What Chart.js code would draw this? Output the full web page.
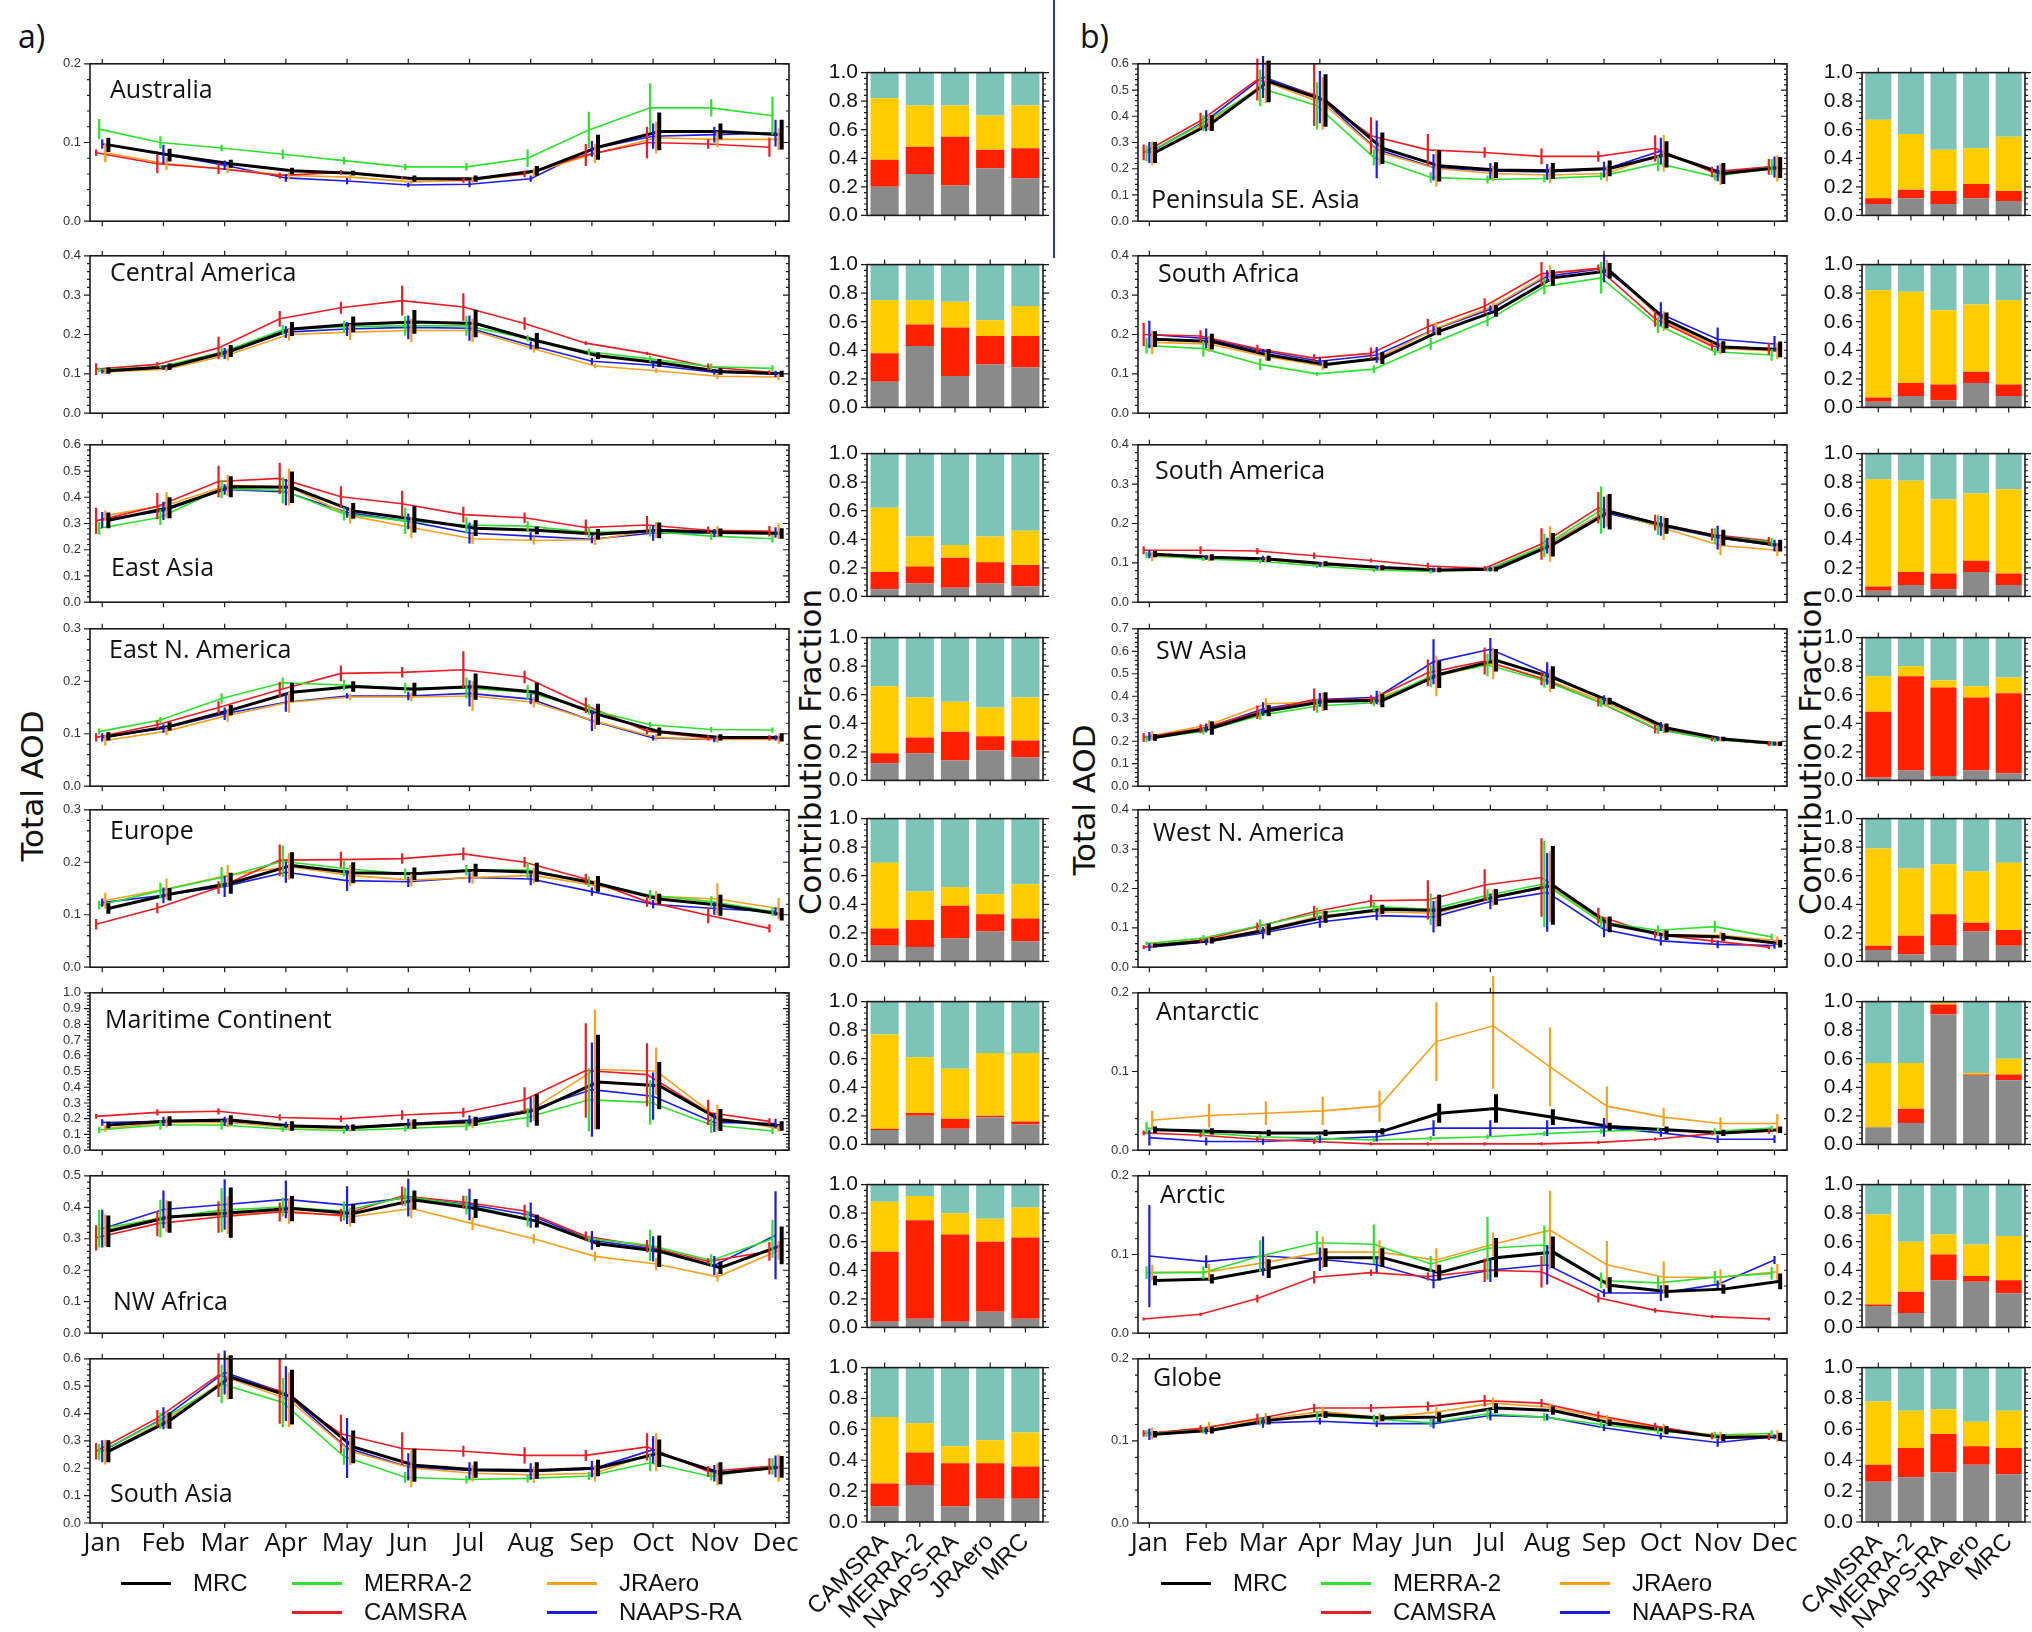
<!DOCTYPE html>
<html lang="en">
<head>
<meta charset="UTF-8" />
<title>Monthly total AOD and contribution fraction by region</title>
<script src="https://cdn.jsdelivr.net/npm/chart.js"></script>
<style>
  body { margin: 0; background: #fff; width: 2032px; height: 1632px; position: relative; overflow: hidden; font-family: "Liberation Sans", Arial, sans-serif; color: #111; }
  canvas { position: absolute; }
  .txt { position: absolute; white-space: nowrap; }
  .panel { font-family: "Open Sans", sans-serif; font-size: 32px; line-height: 1; }
  .vtitle { position: absolute; white-space: nowrap; font-family: "DejaVu Sans", sans-serif; font-size: 31px; transform: translate(-50%, -50%) rotate(-90deg); }
  .legline { position: absolute; height: 3px; }
  .legtxt { position: absolute; font-size: 24px; line-height: 24px; transform: translateY(-50%); white-space: nowrap; }
  #divider { position: absolute; left: 1053px; top: 0; width: 1.5px; height: 258px; background: #2b3f86; }
</style>
</head>
<body>
<div class="txt panel" style="left:18px;top:20px">a)</div>
<div class="txt panel" style="left:1080px;top:20px">b)</div>
<div id="divider"></div>
<div class="vtitle" style="left:32px;top:786px">Total AOD</div>
<div class="vtitle" style="left:1084px;top:800px">Total AOD</div>
<div class="vtitle" style="left:810px;top:752px">Contribution Fraction</div>
<div class="vtitle" style="left:1810px;top:752px">Contribution Fraction</div>

<script>
  const months = ['Jan', 'Feb', 'Mar', 'Apr', 'May', 'Jun', 'Jul', 'Aug', 'Sep', 'Oct', 'Nov', 'Dec'];
  const products = ['MRC', 'MERRA-2', 'CAMSRA', 'JRAero', 'NAAPS-RA'];
  const barLabels = ['CAMSRA', 'MERRA-2', 'NAAPS-RA', 'JRAero', 'MRC'];

  // monthly total AOD, rows in the order of products
  const aodAustralia = [
    [0.097, 0.084, 0.073, 0.064, 0.061, 0.054, 0.054, 0.064, 0.094, 0.114, 0.114, 0.110],
    [0.117, 0.100, 0.093, 0.085, 0.077, 0.069, 0.069, 0.080, 0.116, 0.144, 0.144, 0.134],
    [0.087, 0.073, 0.067, 0.058, 0.062, 0.055, 0.052, 0.060, 0.084, 0.100, 0.098, 0.094],
    [0.087, 0.073, 0.066, 0.058, 0.056, 0.050, 0.052, 0.062, 0.086, 0.106, 0.104, 0.104],
    [0.098, 0.085, 0.071, 0.055, 0.051, 0.046, 0.047, 0.054, 0.092, 0.108, 0.110, 0.112]
  ];
  const errAustralia = [
    [0.009, 0.008, 0.005, 0.004, 0.003, 0.004, 0.004, 0.006, 0.016, 0.024, 0.010, 0.019],
    [0.013, 0.008, 0.004, 0.006, 0.005, 0.004, 0.005, 0.011, 0.023, 0.031, 0.011, 0.024],
    [0.004, 0.012, 0.007, 0.004, 0.003, 0.002, 0.003, 0.004, 0.014, 0.020, 0.006, 0.012],
    [0.012, 0.008, 0.005, 0.005, 0.004, 0.003, 0.004, 0.005, 0.012, 0.020, 0.010, 0.014],
    [0.006, 0.012, 0.006, 0.005, 0.004, 0.003, 0.004, 0.004, 0.010, 0.016, 0.010, 0.017]
  ];
  const aodCentralAmerica = [
    [0.108, 0.118, 0.158, 0.214, 0.226, 0.232, 0.228, 0.184, 0.146, 0.128, 0.106, 0.100],
    [0.110, 0.118, 0.155, 0.212, 0.220, 0.222, 0.222, 0.190, 0.156, 0.138, 0.118, 0.114],
    [0.112, 0.124, 0.166, 0.240, 0.268, 0.286, 0.270, 0.228, 0.178, 0.152, 0.118, 0.104],
    [0.105, 0.112, 0.148, 0.200, 0.206, 0.210, 0.210, 0.164, 0.120, 0.108, 0.094, 0.092],
    [0.106, 0.116, 0.152, 0.206, 0.214, 0.218, 0.216, 0.172, 0.132, 0.122, 0.104, 0.100]
  ];
  const errCentralAmerica = [
    [0.008, 0.008, 0.015, 0.018, 0.020, 0.030, 0.035, 0.020, 0.008, 0.010, 0.008, 0.008],
    [0.006, 0.004, 0.012, 0.012, 0.015, 0.025, 0.025, 0.008, 0.008, 0.008, 0.008, 0.008],
    [0.015, 0.006, 0.028, 0.020, 0.015, 0.038, 0.035, 0.016, 0.005, 0.004, 0.008, 0.005],
    [0.006, 0.006, 0.014, 0.015, 0.020, 0.030, 0.030, 0.010, 0.006, 0.006, 0.008, 0.008],
    [0.005, 0.006, 0.014, 0.015, 0.018, 0.030, 0.032, 0.010, 0.008, 0.008, 0.006, 0.008]
  ];
  const aodEastAsia = [
    [0.312, 0.360, 0.440, 0.438, 0.348, 0.316, 0.282, 0.274, 0.259, 0.274, 0.266, 0.262],
    [0.282, 0.324, 0.432, 0.426, 0.336, 0.310, 0.294, 0.290, 0.266, 0.270, 0.252, 0.242],
    [0.310, 0.366, 0.460, 0.472, 0.402, 0.375, 0.334, 0.322, 0.285, 0.294, 0.274, 0.270],
    [0.330, 0.370, 0.446, 0.440, 0.330, 0.285, 0.242, 0.235, 0.238, 0.276, 0.270, 0.270],
    [0.314, 0.348, 0.430, 0.420, 0.342, 0.308, 0.264, 0.252, 0.240, 0.264, 0.264, 0.266]
  ];
  const errEastAsia = [
    [0.030, 0.040, 0.040, 0.060, 0.030, 0.050, 0.030, 0.015, 0.020, 0.030, 0.015, 0.020],
    [0.025, 0.030, 0.035, 0.050, 0.025, 0.050, 0.030, 0.020, 0.020, 0.020, 0.015, 0.015],
    [0.050, 0.050, 0.060, 0.060, 0.040, 0.050, 0.030, 0.020, 0.030, 0.035, 0.015, 0.020],
    [0.020, 0.050, 0.040, 0.070, 0.030, 0.040, 0.020, 0.015, 0.020, 0.030, 0.020, 0.030],
    [0.030, 0.035, 0.020, 0.050, 0.020, 0.030, 0.040, 0.015, 0.015, 0.030, 0.015, 0.020]
  ];
  const aodEastNAmerica = [
    [0.095, 0.114, 0.145, 0.179, 0.190, 0.185, 0.190, 0.179, 0.137, 0.104, 0.093, 0.093],
    [0.104, 0.126, 0.167, 0.197, 0.193, 0.187, 0.187, 0.179, 0.146, 0.117, 0.108, 0.107],
    [0.093, 0.117, 0.150, 0.184, 0.215, 0.217, 0.222, 0.208, 0.154, 0.105, 0.092, 0.092],
    [0.087, 0.105, 0.135, 0.160, 0.170, 0.170, 0.172, 0.160, 0.124, 0.093, 0.089, 0.089],
    [0.093, 0.110, 0.138, 0.160, 0.172, 0.172, 0.177, 0.166, 0.125, 0.092, 0.089, 0.092]
  ];
  const errEastNAmerica = [
    [0.008, 0.008, 0.010, 0.018, 0.010, 0.012, 0.025, 0.018, 0.020, 0.008, 0.006, 0.008],
    [0.006, 0.006, 0.010, 0.010, 0.010, 0.010, 0.020, 0.014, 0.010, 0.006, 0.005, 0.005],
    [0.008, 0.008, 0.012, 0.015, 0.015, 0.010, 0.035, 0.012, 0.015, 0.006, 0.005, 0.005],
    [0.010, 0.008, 0.012, 0.020, 0.006, 0.008, 0.028, 0.010, 0.015, 0.006, 0.006, 0.008],
    [0.008, 0.008, 0.012, 0.018, 0.005, 0.008, 0.025, 0.010, 0.020, 0.005, 0.005, 0.005]
  ];
  const aodEurope = [
    [0.112, 0.139, 0.160, 0.194, 0.180, 0.178, 0.185, 0.181, 0.159, 0.130, 0.118, 0.101],
    [0.118, 0.146, 0.171, 0.202, 0.188, 0.178, 0.185, 0.185, 0.163, 0.137, 0.125, 0.106],
    [0.082, 0.113, 0.152, 0.204, 0.205, 0.207, 0.216, 0.200, 0.168, 0.125, 0.099, 0.074],
    [0.127, 0.149, 0.175, 0.192, 0.175, 0.166, 0.171, 0.175, 0.156, 0.135, 0.130, 0.112],
    [0.123, 0.137, 0.154, 0.181, 0.165, 0.163, 0.171, 0.168, 0.144, 0.120, 0.112, 0.106]
  ];
  const errEurope = [
    [0.010, 0.012, 0.020, 0.025, 0.020, 0.012, 0.012, 0.018, 0.015, 0.010, 0.020, 0.012],
    [0.008, 0.015, 0.020, 0.030, 0.015, 0.010, 0.010, 0.015, 0.010, 0.010, 0.010, 0.008],
    [0.010, 0.010, 0.012, 0.030, 0.015, 0.010, 0.012, 0.010, 0.010, 0.010, 0.015, 0.008],
    [0.015, 0.020, 0.020, 0.025, 0.020, 0.012, 0.012, 0.015, 0.010, 0.010, 0.030, 0.020],
    [0.008, 0.015, 0.020, 0.020, 0.020, 0.010, 0.010, 0.012, 0.008, 0.008, 0.012, 0.008]
  ];
  const aodMaritime = [
    [0.160, 0.186, 0.192, 0.154, 0.144, 0.167, 0.183, 0.256, 0.433, 0.410, 0.192, 0.154],
    [0.128, 0.160, 0.160, 0.135, 0.125, 0.138, 0.154, 0.208, 0.320, 0.304, 0.160, 0.122],
    [0.215, 0.240, 0.247, 0.208, 0.199, 0.224, 0.240, 0.320, 0.506, 0.480, 0.240, 0.183],
    [0.138, 0.176, 0.176, 0.144, 0.138, 0.160, 0.170, 0.266, 0.513, 0.503, 0.208, 0.138],
    [0.176, 0.183, 0.183, 0.160, 0.144, 0.170, 0.192, 0.256, 0.385, 0.343, 0.176, 0.170]
  ];
  const errMaritime = [
    [0.02, 0.03, 0.03, 0.03, 0.02, 0.03, 0.03, 0.10, 0.30, 0.15, 0.07, 0.03],
    [0.02, 0.03, 0.03, 0.02, 0.02, 0.02, 0.03, 0.06, 0.20, 0.14, 0.05, 0.02],
    [0.015, 0.02, 0.02, 0.02, 0.02, 0.03, 0.03, 0.08, 0.30, 0.20, 0.08, 0.02],
    [0.02, 0.03, 0.03, 0.02, 0.02, 0.03, 0.03, 0.08, 0.38, 0.15, 0.08, 0.02],
    [0.02, 0.03, 0.03, 0.02, 0.02, 0.03, 0.03, 0.08, 0.30, 0.15, 0.06, 0.03]
  ];
  const aodNWAfrica = [
    [0.324, 0.369, 0.383, 0.396, 0.380, 0.423, 0.396, 0.356, 0.284, 0.260, 0.208, 0.279],
    [0.332, 0.364, 0.391, 0.401, 0.388, 0.433, 0.407, 0.364, 0.300, 0.279, 0.231, 0.300],
    [0.303, 0.348, 0.369, 0.385, 0.375, 0.436, 0.417, 0.388, 0.308, 0.276, 0.228, 0.260],
    [0.327, 0.372, 0.375, 0.388, 0.369, 0.396, 0.348, 0.300, 0.244, 0.220, 0.179, 0.263],
    [0.332, 0.393, 0.409, 0.425, 0.407, 0.431, 0.409, 0.375, 0.295, 0.268, 0.215, 0.311]
  ];
  const errNWAfrica = [
    [0.05, 0.05, 0.08, 0.04, 0.03, 0.03, 0.03, 0.02, 0.01, 0.05, 0.02, 0.06],
    [0.06, 0.06, 0.07, 0.03, 0.03, 0.03, 0.03, 0.025, 0.01, 0.05, 0.02, 0.06],
    [0.04, 0.04, 0.05, 0.03, 0.02, 0.03, 0.02, 0.02, 0.015, 0.02, 0.01, 0.03],
    [0.05, 0.05, 0.06, 0.04, 0.03, 0.03, 0.02, 0.015, 0.015, 0.02, 0.015, 0.03],
    [0.06, 0.06, 0.08, 0.06, 0.06, 0.06, 0.05, 0.04, 0.03, 0.04, 0.03, 0.14]
  ];
  const aodSouthAsia = [
    [0.262, 0.374, 0.533, 0.460, 0.278, 0.211, 0.195, 0.192, 0.201, 0.255, 0.182, 0.205],
    [0.259, 0.374, 0.508, 0.440, 0.243, 0.167, 0.159, 0.163, 0.172, 0.220, 0.170, 0.207],
    [0.262, 0.383, 0.540, 0.483, 0.326, 0.272, 0.262, 0.247, 0.247, 0.278, 0.188, 0.207],
    [0.259, 0.377, 0.531, 0.450, 0.262, 0.201, 0.182, 0.176, 0.182, 0.259, 0.178, 0.201],
    [0.262, 0.383, 0.550, 0.473, 0.274, 0.205, 0.192, 0.188, 0.197, 0.268, 0.182, 0.207]
  ];
  const errSouthAsia = [
    [0.04, 0.03, 0.08, 0.10, 0.06, 0.06, 0.03, 0.03, 0.03, 0.05, 0.04, 0.04],
    [0.03, 0.03, 0.07, 0.09, 0.03, 0.02, 0.015, 0.015, 0.015, 0.03, 0.015, 0.03],
    [0.03, 0.03, 0.08, 0.12, 0.07, 0.06, 0.02, 0.03, 0.02, 0.05, 0.02, 0.03],
    [0.045, 0.03, 0.08, 0.10, 0.05, 0.07, 0.03, 0.03, 0.03, 0.07, 0.04, 0.05],
    [0.04, 0.04, 0.08, 0.10, 0.11, 0.05, 0.03, 0.03, 0.03, 0.05, 0.03, 0.04]
  ];
  const aodPeninsula = [
    [0.262, 0.374, 0.533, 0.460, 0.278, 0.211, 0.195, 0.192, 0.201, 0.255, 0.182, 0.205],
    [0.259, 0.374, 0.508, 0.440, 0.243, 0.167, 0.159, 0.163, 0.172, 0.220, 0.170, 0.207],
    [0.262, 0.383, 0.540, 0.483, 0.326, 0.272, 0.262, 0.247, 0.247, 0.278, 0.188, 0.207],
    [0.259, 0.377, 0.531, 0.450, 0.262, 0.201, 0.182, 0.176, 0.182, 0.259, 0.178, 0.201],
    [0.262, 0.383, 0.550, 0.473, 0.274, 0.205, 0.192, 0.188, 0.197, 0.268, 0.182, 0.207]
  ];
  const errPeninsula = [
    [0.04, 0.03, 0.08, 0.10, 0.06, 0.06, 0.03, 0.03, 0.03, 0.05, 0.04, 0.04],
    [0.03, 0.03, 0.07, 0.09, 0.03, 0.02, 0.015, 0.015, 0.015, 0.03, 0.015, 0.03],
    [0.03, 0.03, 0.08, 0.12, 0.07, 0.06, 0.02, 0.03, 0.02, 0.05, 0.02, 0.03],
    [0.045, 0.03, 0.08, 0.10, 0.05, 0.07, 0.03, 0.03, 0.03, 0.07, 0.04, 0.05],
    [0.04, 0.04, 0.08, 0.10, 0.11, 0.05, 0.03, 0.03, 0.03, 0.05, 0.03, 0.04]
  ];
  const aodSouthAfrica = [
    [0.188, 0.182, 0.148, 0.124, 0.140, 0.208, 0.260, 0.344, 0.362, 0.236, 0.168, 0.162],
    [0.172, 0.164, 0.124, 0.100, 0.112, 0.176, 0.236, 0.322, 0.344, 0.224, 0.156, 0.148],
    [0.200, 0.196, 0.164, 0.140, 0.152, 0.220, 0.272, 0.354, 0.368, 0.240, 0.170, 0.164],
    [0.180, 0.176, 0.144, 0.120, 0.142, 0.216, 0.272, 0.356, 0.370, 0.234, 0.164, 0.158],
    [0.200, 0.190, 0.158, 0.132, 0.148, 0.212, 0.264, 0.348, 0.368, 0.252, 0.188, 0.176]
  ];
  const errSouthAfrica = [
    [0.020, 0.020, 0.015, 0.010, 0.015, 0.010, 0.015, 0.020, 0.020, 0.020, 0.015, 0.020],
    [0.020, 0.020, 0.015, 0.005, 0.010, 0.015, 0.015, 0.020, 0.040, 0.020, 0.010, 0.015],
    [0.030, 0.015, 0.010, 0.010, 0.015, 0.020, 0.020, 0.030, 0.010, 0.020, 0.010, 0.015],
    [0.030, 0.020, 0.010, 0.010, 0.010, 0.015, 0.010, 0.020, 0.020, 0.025, 0.015, 0.020],
    [0.035, 0.025, 0.005, 0.010, 0.020, 0.010, 0.010, 0.015, 0.035, 0.030, 0.030, 0.020]
  ];
  const aodSouthAmerica = [
    [0.122, 0.114, 0.110, 0.098, 0.088, 0.082, 0.084, 0.146, 0.230, 0.194, 0.164, 0.144],
    [0.120, 0.110, 0.104, 0.092, 0.082, 0.078, 0.083, 0.144, 0.234, 0.196, 0.168, 0.152],
    [0.132, 0.132, 0.130, 0.118, 0.106, 0.092, 0.086, 0.148, 0.240, 0.202, 0.172, 0.156],
    [0.116, 0.112, 0.108, 0.096, 0.086, 0.082, 0.084, 0.148, 0.232, 0.188, 0.144, 0.132],
    [0.122, 0.114, 0.110, 0.096, 0.088, 0.082, 0.084, 0.144, 0.228, 0.194, 0.164, 0.144]
  ];
  const errSouthAmerica = [
    [0.008, 0.008, 0.008, 0.006, 0.006, 0.006, 0.006, 0.030, 0.045, 0.020, 0.020, 0.015],
    [0.008, 0.005, 0.005, 0.005, 0.005, 0.005, 0.005, 0.030, 0.060, 0.025, 0.020, 0.012],
    [0.010, 0.010, 0.008, 0.008, 0.005, 0.008, 0.006, 0.040, 0.040, 0.020, 0.015, 0.010],
    [0.012, 0.008, 0.006, 0.006, 0.005, 0.005, 0.005, 0.045, 0.040, 0.030, 0.025, 0.015],
    [0.010, 0.006, 0.008, 0.006, 0.005, 0.006, 0.006, 0.020, 0.040, 0.025, 0.030, 0.015]
  ];
  const aodSWAsia = [
    [0.217, 0.259, 0.336, 0.378, 0.381, 0.497, 0.560, 0.483, 0.378, 0.259, 0.210, 0.189],
    [0.210, 0.245, 0.315, 0.357, 0.371, 0.490, 0.539, 0.469, 0.371, 0.252, 0.207, 0.189],
    [0.217, 0.255, 0.329, 0.385, 0.385, 0.504, 0.557, 0.479, 0.375, 0.256, 0.210, 0.189],
    [0.224, 0.273, 0.367, 0.374, 0.392, 0.490, 0.546, 0.469, 0.371, 0.255, 0.210, 0.189],
    [0.221, 0.259, 0.343, 0.385, 0.395, 0.553, 0.609, 0.501, 0.385, 0.266, 0.210, 0.189]
  ];
  const errSWAsia = [
    [0.015, 0.030, 0.025, 0.040, 0.030, 0.060, 0.050, 0.050, 0.015, 0.020, 0.010, 0.010],
    [0.015, 0.015, 0.020, 0.030, 0.015, 0.050, 0.050, 0.030, 0.020, 0.020, 0.010, 0.010],
    [0.020, 0.020, 0.030, 0.050, 0.020, 0.060, 0.060, 0.030, 0.020, 0.020, 0.010, 0.010],
    [0.020, 0.020, 0.025, 0.040, 0.030, 0.090, 0.070, 0.050, 0.020, 0.020, 0.010, 0.010],
    [0.020, 0.020, 0.030, 0.030, 0.030, 0.100, 0.050, 0.050, 0.020, 0.020, 0.010, 0.010]
  ];
  const aodWestNAmerica = [
    [0.055, 0.068, 0.096, 0.128, 0.147, 0.144, 0.179, 0.208, 0.109, 0.081, 0.077, 0.060],
    [0.060, 0.074, 0.106, 0.137, 0.154, 0.147, 0.183, 0.212, 0.115, 0.094, 0.103, 0.077],
    [0.051, 0.068, 0.103, 0.141, 0.169, 0.171, 0.209, 0.228, 0.131, 0.083, 0.067, 0.051],
    [0.058, 0.071, 0.096, 0.132, 0.141, 0.137, 0.176, 0.205, 0.112, 0.083, 0.081, 0.068],
    [0.051, 0.064, 0.087, 0.115, 0.131, 0.128, 0.167, 0.190, 0.096, 0.067, 0.058, 0.055]
  ];
  const errWestNAmerica = [
    [0.005, 0.008, 0.015, 0.015, 0.012, 0.040, 0.020, 0.100, 0.020, 0.012, 0.010, 0.010],
    [0.005, 0.008, 0.015, 0.015, 0.012, 0.040, 0.015, 0.110, 0.015, 0.012, 0.015, 0.008],
    [0.005, 0.005, 0.010, 0.015, 0.015, 0.050, 0.040, 0.100, 0.020, 0.010, 0.008, 0.005],
    [0.005, 0.008, 0.012, 0.015, 0.012, 0.035, 0.020, 0.090, 0.015, 0.010, 0.010, 0.010],
    [0.010, 0.008, 0.015, 0.015, 0.012, 0.040, 0.020, 0.100, 0.020, 0.012, 0.010, 0.008]
  ];
  const aodAntarctic = [
    [0.026, 0.024, 0.022, 0.022, 0.024, 0.047, 0.053, 0.042, 0.030, 0.026, 0.022, 0.026],
    [0.028, 0.022, 0.017, 0.015, 0.013, 0.015, 0.017, 0.021, 0.024, 0.026, 0.024, 0.028],
    [0.022, 0.019, 0.014, 0.011, 0.008, 0.008, 0.008, 0.008, 0.010, 0.014, 0.021, 0.024],
    [0.038, 0.044, 0.047, 0.050, 0.056, 0.138, 0.158, 0.106, 0.056, 0.042, 0.034, 0.034],
    [0.016, 0.011, 0.011, 0.014, 0.017, 0.028, 0.028, 0.028, 0.029, 0.022, 0.014, 0.014]
  ];
  const errAntarctic = [
    [0.004, 0.004, 0.004, 0.004, 0.004, 0.012, 0.018, 0.010, 0.005, 0.004, 0.004, 0.004],
    [0.008, 0.004, 0.003, 0.003, 0.003, 0.003, 0.003, 0.003, 0.003, 0.003, 0.004, 0.003],
    [0.003, 0.003, 0.003, 0.003, 0.002, 0.002, 0.002, 0.002, 0.002, 0.002, 0.002, 0.003],
    [0.012, 0.015, 0.015, 0.018, 0.020, 0.050, 0.080, 0.050, 0.025, 0.012, 0.008, 0.012],
    [0.010, 0.005, 0.004, 0.005, 0.006, 0.010, 0.010, 0.010, 0.012, 0.005, 0.005, 0.005]
  ];
  const aodArctic = [
    [0.067, 0.069, 0.082, 0.096, 0.096, 0.077, 0.096, 0.103, 0.061, 0.053, 0.056, 0.066],
    [0.077, 0.077, 0.098, 0.115, 0.113, 0.088, 0.108, 0.112, 0.067, 0.064, 0.071, 0.076],
    [0.018, 0.024, 0.044, 0.071, 0.077, 0.072, 0.080, 0.078, 0.045, 0.029, 0.021, 0.018],
    [0.077, 0.078, 0.090, 0.103, 0.103, 0.093, 0.113, 0.131, 0.087, 0.071, 0.071, 0.078],
    [0.098, 0.091, 0.098, 0.094, 0.087, 0.067, 0.080, 0.087, 0.051, 0.051, 0.062, 0.093]
  ];
  const errArctic = [
    [0.006, 0.006, 0.012, 0.012, 0.012, 0.010, 0.025, 0.020, 0.010, 0.008, 0.006, 0.010],
    [0.008, 0.008, 0.020, 0.015, 0.025, 0.010, 0.040, 0.025, 0.010, 0.008, 0.008, 0.008],
    [0.002, 0.002, 0.005, 0.008, 0.004, 0.005, 0.015, 0.020, 0.006, 0.003, 0.002, 0.002],
    [0.010, 0.010, 0.010, 0.020, 0.015, 0.015, 0.015, 0.050, 0.030, 0.020, 0.010, 0.010],
    [0.065, 0.008, 0.025, 0.015, 0.010, 0.010, 0.015, 0.025, 0.005, 0.010, 0.005, 0.005]
  ];
  const aodGlobe = [
    [0.108, 0.113, 0.125, 0.132, 0.128, 0.129, 0.140, 0.137, 0.122, 0.113, 0.104, 0.105],
    [0.109, 0.113, 0.124, 0.131, 0.127, 0.122, 0.133, 0.129, 0.120, 0.112, 0.107, 0.109],
    [0.109, 0.115, 0.127, 0.140, 0.140, 0.142, 0.149, 0.146, 0.131, 0.118, 0.106, 0.105],
    [0.109, 0.117, 0.127, 0.136, 0.128, 0.135, 0.146, 0.141, 0.127, 0.115, 0.106, 0.106],
    [0.108, 0.112, 0.122, 0.124, 0.121, 0.121, 0.131, 0.129, 0.116, 0.106, 0.098, 0.105]
  ];
  const errGlobe = [
    [0.004, 0.004, 0.005, 0.004, 0.004, 0.006, 0.006, 0.005, 0.004, 0.005, 0.004, 0.005],
    [0.004, 0.004, 0.005, 0.005, 0.005, 0.005, 0.006, 0.005, 0.004, 0.004, 0.004, 0.004],
    [0.004, 0.004, 0.006, 0.005, 0.005, 0.006, 0.007, 0.005, 0.005, 0.004, 0.004, 0.004],
    [0.007, 0.006, 0.007, 0.006, 0.006, 0.006, 0.007, 0.005, 0.005, 0.006, 0.005, 0.007],
    [0.007, 0.004, 0.006, 0.004, 0.004, 0.006, 0.006, 0.004, 0.004, 0.004, 0.005, 0.003]
  ];

  // contribution fraction: tops of the grey, red and yellow stacks, per barLabels
  const fracAustralia = [[0.20, 0.29, 0.21, 0.33, 0.26], [0.39, 0.48, 0.55, 0.46, 0.47], [0.82, 0.77, 0.77, 0.70, 0.77]];
  const fracCentralAmerica = [[0.18, 0.43, 0.22, 0.30, 0.28], [0.38, 0.58, 0.56, 0.50, 0.50], [0.75, 0.75, 0.74, 0.61, 0.71]];
  const fracEastAsia = [[0.05, 0.09, 0.06, 0.09, 0.07], [0.17, 0.21, 0.27, 0.24, 0.22], [0.62, 0.42, 0.36, 0.42, 0.46]];
  const fracEastNAmerica = [[0.12, 0.19, 0.14, 0.21, 0.16], [0.19, 0.30, 0.34, 0.31, 0.28], [0.66, 0.58, 0.55, 0.51, 0.58]];
  const fracEurope = [[0.11, 0.10, 0.16, 0.21, 0.14], [0.23, 0.29, 0.39, 0.33, 0.30], [0.69, 0.49, 0.52, 0.47, 0.54]];
  const fracMaritime = [[0.10, 0.20, 0.11, 0.19, 0.14], [0.11, 0.22, 0.18, 0.20, 0.16], [0.77, 0.61, 0.53, 0.64, 0.64]];
  const fracNWAfrica = [[0.04, 0.06, 0.04, 0.11, 0.06], [0.53, 0.75, 0.65, 0.60, 0.63], [0.88, 0.92, 0.80, 0.76, 0.84]];
  const fracSouthAsia = [[0.10, 0.24, 0.10, 0.15, 0.15], [0.25, 0.45, 0.38, 0.38, 0.36], [0.68, 0.64, 0.49, 0.53, 0.58]];
  const fracPeninsula = [[0.08, 0.12, 0.08, 0.12, 0.10], [0.12, 0.18, 0.17, 0.22, 0.17], [0.67, 0.57, 0.46, 0.47, 0.55]];
  const fracSouthAfrica = [[0.04, 0.08, 0.05, 0.17, 0.08], [0.07, 0.17, 0.16, 0.25, 0.16], [0.82, 0.81, 0.68, 0.72, 0.75]];
  const fracSouthAmerica = [[0.04, 0.08, 0.05, 0.17, 0.08], [0.07, 0.17, 0.16, 0.25, 0.16], [0.82, 0.81, 0.68, 0.72, 0.75]];
  const fracSWAsia = [[0.02, 0.07, 0.03, 0.07, 0.05], [0.48, 0.73, 0.65, 0.58, 0.61], [0.73, 0.80, 0.70, 0.66, 0.72]];
  const fracWestNAmerica = [[0.08, 0.05, 0.11, 0.21, 0.11], [0.11, 0.18, 0.33, 0.27, 0.22], [0.79, 0.65, 0.68, 0.63, 0.69]];
  const fracAntarctic = [[0.12, 0.15, 0.91, 0.48, 0.45], [0.12, 0.25, 0.98, 0.49, 0.49], [0.57, 0.57, 0.99, 0.50, 0.60]];
  const fracArctic = [[0.15, 0.10, 0.33, 0.32, 0.24], [0.16, 0.25, 0.51, 0.36, 0.33], [0.79, 0.60, 0.65, 0.58, 0.64]];
  const fracGlobe = [[0.26, 0.29, 0.32, 0.37, 0.31], [0.37, 0.48, 0.57, 0.49, 0.48], [0.78, 0.72, 0.73, 0.65, 0.72]];

  // styling and layout
  const lineColors = ['#000000', '#2ee02e', '#ec1c24', '#f5a01e', '#1c1ce8'];
  const xShift = [0.1, -0.05, -0.1, 0.05, 0];
  const layerColors = ['#8a8a8a', '#ff2000', '#ffcc00', '#7cc3b8'];
  const cols = [
    { plotX: 90, plotW: 699, barX: 867, barW: 176 },
    { plotX: 1138, plotW: 649, barX: 1862, barW: 163 }
  ];
  const rowTops = [61, 253, 442, 626, 807, 990, 1173, 1356];
  const plotH = 167;

  const panels = [
    { col: 0, row: 0, name: 'Australia', ymax: 0.2, aod: aodAustralia, err: errAustralia, frac: fracAustralia, dx: 20, dy: 27 },
    { col: 0, row: 1, name: 'Central America', ymax: 0.4, aod: aodCentralAmerica, err: errCentralAmerica, frac: fracCentralAmerica, dx: 20, dy: 18 },
    { col: 0, row: 2, name: 'East Asia', ymax: 0.6, aod: aodEastAsia, err: errEastAsia, frac: fracEastAsia, dx: 21, dy: 124 },
    { col: 0, row: 3, name: 'East N. America', ymax: 0.3, aod: aodEastNAmerica, err: errEastNAmerica, frac: fracEastNAmerica, dx: 19, dy: 22 },
    { col: 0, row: 4, name: 'Europe', ymax: 0.3, aod: aodEurope, err: errEurope, frac: fracEurope, dx: 20, dy: 22 },
    { col: 0, row: 5, name: 'Maritime Continent', ymax: 1.0, aod: aodMaritime, err: errMaritime, frac: fracMaritime, dx: 15, dy: 28 },
    { col: 0, row: 6, name: 'NW Africa', ymax: 0.5, aod: aodNWAfrica, err: errNWAfrica, frac: fracNWAfrica, dx: 23, dy: 127 },
    { col: 0, row: 7, name: 'South Asia', ymax: 0.6, aod: aodSouthAsia, err: errSouthAsia, frac: fracSouthAsia, dx: 20, dy: 136 },
    { col: 1, row: 0, name: 'Peninsula SE. Asia', ymax: 0.6, aod: aodPeninsula, err: errPeninsula, frac: fracPeninsula, dx: 13, dy: 137 },
    { col: 1, row: 1, name: 'South Africa', ymax: 0.4, aod: aodSouthAfrica, err: errSouthAfrica, frac: fracSouthAfrica, dx: 20, dy: 19 },
    { col: 1, row: 2, name: 'South America', ymax: 0.4, aod: aodSouthAmerica, err: errSouthAmerica, frac: fracSouthAmerica, dx: 17, dy: 27 },
    { col: 1, row: 3, name: 'SW Asia', ymax: 0.7, aod: aodSWAsia, err: errSWAsia, frac: fracSWAsia, dx: 18, dy: 23 },
    { col: 1, row: 4, name: 'West N. America', ymax: 0.4, aod: aodWestNAmerica, err: errWestNAmerica, frac: fracWestNAmerica, dx: 15, dy: 24 },
    { col: 1, row: 5, name: 'Antarctic', ymax: 0.2, aod: aodAntarctic, err: errAntarctic, frac: fracAntarctic, dx: 18, dy: 20 },
    { col: 1, row: 6, name: 'Arctic', ymax: 0.2, aod: aodArctic, err: errArctic, frac: fracArctic, dx: 22, dy: 20 },
    { col: 1, row: 7, name: 'Globe', ymax: 0.2, aod: aodGlobe, err: errGlobe, frac: fracGlobe, dx: 15, dy: 20 }
  ];

  // draws the error bar of every point from the dataset's err array
  const errorBars = {
    id: 'errorBars',
    afterDatasetsDraw(chart) {
      const ctx = chart.ctx, y = chart.scales.y;
      ctx.save();
      for (let k = chart.data.datasets.length - 1; k >= 0; k--) {
        const ds = chart.data.datasets[k];
        if (!ds.err) continue;
        const meta = chart.getDatasetMeta(k);
        ctx.strokeStyle = ds.borderColor;
        ctx.lineWidth = ds.errWidth;
        ctx.beginPath();
        meta.data.forEach((pt, i) => {
          const v = ds.data[i].y, e = ds.err[i];
          ctx.moveTo(pt.x, y.getPixelForValue(v - e));
          ctx.lineTo(pt.x, y.getPixelForValue(v + e));
        });
        ctx.stroke();
      }
      ctx.restore();
    }
  };

  // box, tick marks and region name
  const frame = {
    id: 'frame',
    afterDraw(chart, args, o) {
      const { ctx, chartArea: a } = chart;
      const x = chart.scales.x, y = chart.scales.y;
      ctx.save();
      ctx.strokeStyle = '#1a1a1a';
      ctx.lineWidth = 1.6;
      ctx.strokeRect(a.left, a.top, a.right - a.left, a.bottom - a.top);
      ctx.lineWidth = 1.2;
      ctx.beginPath();
      x.ticks.forEach((t, i) => {
        const px = x.getPixelForTick(i);
        ctx.moveTo(px, a.top); ctx.lineTo(px, a.top - 5);
        ctx.moveTo(px, a.bottom); ctx.lineTo(px, a.bottom + 5);
      });
      const n = Math.round((y.max - y.min) / o.minor);
      for (let k = 0; k <= n; k++) {
        const py = y.getPixelForValue(y.min + k * o.minor);
        const len = k % 5 === 0 ? 6 : 3;
        ctx.moveTo(a.left, py); ctx.lineTo(a.left - len, py);
        ctx.moveTo(a.right, py); ctx.lineTo(a.right + (o.rightIn ? -len : len), py);
      }
      ctx.stroke();
      if (o.title) {
        ctx.fillStyle = '#111';
        ctx.font = '25px "Open Sans"';
        ctx.textBaseline = 'middle';
        ctx.fillText(o.title, a.left + o.dx, a.top + o.dy);
      }
      ctx.restore();
    }
  };

  function addCanvas(left, top, w, h) {
    const c = document.createElement('canvas');
    c.width = w; c.height = h;
    c.style.left = left + 'px'; c.style.top = top + 'px';
    c.style.width = w + 'px'; c.style.height = h + 'px';
    document.body.appendChild(c);
    return c;
  }

  function makeLine(p) {
    const L = cols[p.col];
    const last = p.row === 7;
    const YW = 50, PT = 14, PR = 30, XH = last ? 50 : 10;
    const c = addCanvas(L.plotX - YW, rowTops[p.row] - PT, YW + L.plotW + PR, PT + plotH + XH);
    new Chart(c, {
      type: 'line',
      data: {
        datasets: products.map((name, k) => ({
          label: name,
          data: p.aod[k].map((v, i) => ({ x: i + xShift[k], y: v })),
          err: p.err[k],
          borderColor: lineColors[k],
          borderWidth: k === 0 ? 3 : 1.6,
          errWidth: k === 0 ? 4 : 2.2,
          pointRadius: 0,
          tension: 0,
          fill: false
        }))
      },
      options: {
        responsive: false, animation: false, devicePixelRatio: 1,
        layout: { autoPadding: false, padding: { top: PT, right: PR, left: 0, bottom: 0 } },
        plugins: {
          legend: { display: false }, tooltip: { enabled: false },
          frame: { minor: 0.02, rightIn: true, title: p.name, dx: p.dx, dy: p.dy }
        },
        scales: {
          x: {
            type: 'linear', min: -0.2, max: 11.22,
            afterBuildTicks: s => { s.ticks = months.map((m, i) => ({ value: i })); },
            afterFit: s => { s.height = XH; },
            grid: { display: false, drawTicks: false }, border: { display: false },
            ticks: { display: last, autoSkip: false, maxRotation: 0, padding: 5, color: '#111',
              font: { family: 'Open Sans', size: 26 }, callback: v => months[v] }
          },
          y: {
            min: 0, max: p.ymax,
            afterFit: s => { s.width = YW; },
            grid: { display: false, drawTicks: false }, border: { display: false },
            ticks: { stepSize: 0.1, autoSkip: false, padding: 9, color: '#333',
              font: { family: 'Liberation Sans', size: 13 }, callback: v => v.toFixed(1) }
          }
        }
      },
      plugins: [errorBars, frame]
    });
  }

  function makeBars(p) {
    const L = cols[p.col];
    const last = p.row === 7;
    const YW = 100, PT = 14, PR = 14, XH = last ? 140 : 10;
    const top = rowTops[p.row] + 4, h = 162;
    const c = addCanvas(L.barX - YW, top - PT, YW + L.barW + PR, PT + h + XH);
    const low = [null, p.frac[0], p.frac[1], p.frac[2]];
    new Chart(c, {
      type: 'bar',
      data: {
        labels: barLabels,
        datasets: layerColors.map((col, k) => ({
          data: barLabels.map((_, i) => [k === 0 ? 0 : low[k][i], k === 3 ? 1 : p.frac[k][i]]),
          backgroundColor: col,
          borderWidth: 0,
          grouped: false,
          barPercentage: 1,
          categoryPercentage: 0.8
        }))
      },
      options: {
        responsive: false, animation: false, devicePixelRatio: 1,
        layout: { autoPadding: false, padding: { top: PT, right: PR, left: 0, bottom: 0 } },
        plugins: {
          legend: { display: false }, tooltip: { enabled: false },
          frame: { minor: 0.04, rightIn: false }
        },
        scales: {
          x: {
            afterFit: s => { s.height = XH; },
            grid: { display: false, drawTicks: false }, border: { display: false },
            ticks: { display: last, autoSkip: false, minRotation: 45, maxRotation: 45, padding: 6, color: '#111',
              font: { family: 'Liberation Sans', size: 24 } }
          },
          y: {
            min: 0, max: 1,
            afterFit: s => { s.width = YW; },
            grid: { display: false, drawTicks: false }, border: { display: false },
            ticks: { stepSize: 0.2, autoSkip: false, padding: 9, color: '#111',
              font: { family: 'Liberation Sans', size: 21 }, callback: v => v.toFixed(1) }
          }
        }
      },
      plugins: [frame]
    });
  }

  panels.forEach(p => { makeLine(p); makeBars(p); });

  // legends under both columns
  const legendSlots = [
    [{ x: 121, y: 1583 }, { x: 292, y: 1583 }, { x: 292, y: 1612 }, { x: 547, y: 1583 }, { x: 547, y: 1612 }],
    [{ x: 1161, y: 1583 }, { x: 1321, y: 1583 }, { x: 1321, y: 1612 }, { x: 1560, y: 1583 }, { x: 1560, y: 1612 }]
  ];
  legendSlots.forEach(slots => {
    products.forEach((name, k) => {
      const s = slots[k];
      const ln = document.createElement('div');
      ln.className = 'legline';
      ln.style.left = s.x + 'px'; ln.style.top = (s.y - 1.5) + 'px';
      ln.style.width = '50px'; ln.style.background = lineColors[k];
      document.body.appendChild(ln);
      const tx = document.createElement('div');
      tx.className = 'legtxt';
      tx.style.left = (s.x + 72) + 'px'; tx.style.top = s.y + 'px';
      tx.textContent = name;
      document.body.appendChild(tx);
    });
  });
</script>
</body>
</html>
